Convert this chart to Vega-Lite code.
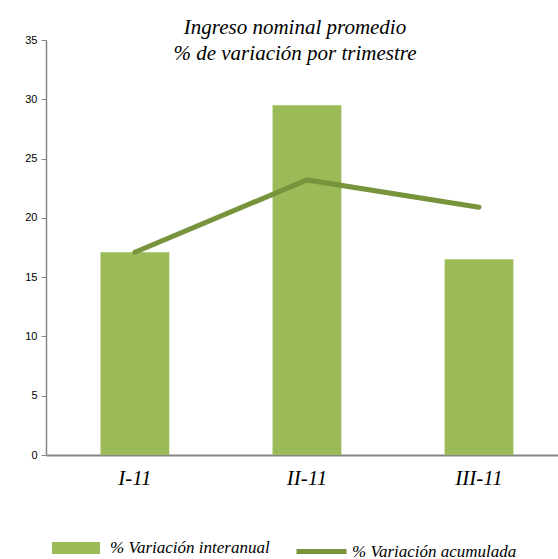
{
  "$schema": "https://vega.github.io/schema/vega-lite/v6.json",
  "autosize": {"type": "none"},
  "padding": {"left": 46, "top": 40, "right": 0, "bottom": 104},
  "width": 512,
  "height": 415,
  "background": "white",
  "title": {
    "text": ["Ingreso nominal promedio", "% de variación por trimestre"],
    "anchor": "middle",
    "font": "Liberation Serif",
    "fontStyle": "italic",
    "fontWeight": "normal",
    "fontSize": 21,
    "lineHeight": 26,
    "color": "#000000",
    "dx": -7,
    "offset": -30
  },
  "data": {
    "values": [
      {"trimestre": "I-11", "interanual": 17.1, "acumulada": 17.1},
      {"trimestre": "II-11", "interanual": 29.5, "acumulada": 23.2},
      {"trimestre": "III-11", "interanual": 16.5, "acumulada": 20.9}
    ]
  },
  "encoding": {
    "x": {
      "field": "trimestre",
      "type": "nominal",
      "sort": null,
      "scale": {"paddingInner": 0.6, "paddingOuter": 0.288, "align": 0.55},
      "axis": {
        "title": null,
        "labelAngle": 0,
        "labelFont": "Liberation Serif",
        "labelFontStyle": "italic",
        "labelFontSize": 21,
        "labelColor": "#000000",
        "labelPadding": 12,
        "ticks": false,
        "domainColor": "#868686",
        "domainWidth": 2
      }
    }
  },
  "layer": [
    {
      "mark": {"type": "bar", "color": "#9BBB59"},
      "encoding": {
        "y": {
          "field": "interanual",
          "type": "quantitative",
          "scale": {"domain": [0, 35], "nice": false},
          "axis": {
            "title": null,
            "values": [0, 5, 10, 15, 20, 25, 30, 35],
            "grid": false,
            "labelFont": "Liberation Sans",
            "labelFontSize": 11,
            "labelColor": "#000000",
            "labelPadding": 4,
            "tickSize": 5,
            "tickColor": "#868686",
            "domainColor": "#868686",
            "domainWidth": 1.5
          }
        },
        "fill": {
          "datum": "% Variación interanual",
          "scale": {"range": ["#9BBB59"]},
          "legend": {
            "title": null,
            "orient": "none",
            "legendX": 6,
            "legendY": 484,
            "symbolType": "M-1,-0.25H1V0.25H-1Z",
            "symbolSize": 2304,
            "symbolStrokeWidth": 0,
            "labelFont": "Liberation Serif",
            "labelFontStyle": "italic",
            "labelFontSize": 17,
            "labelColor": "#000000",
            "labelLimit": 0,
            "labelOffset": 10
          }
        }
      }
    },
    {
      "mark": {"type": "line", "strokeWidth": 5, "strokeCap": "round"},
      "encoding": {
        "y": {"field": "acumulada", "type": "quantitative"},
        "stroke": {
          "datum": "% Variación acumulada",
          "scale": {"range": ["#77933C"]},
          "legend": {
            "title": null,
            "orient": "none",
            "legendX": 248,
            "legendY": 484,
            "symbolType": "stroke",
            "symbolSize": 2500,
            "symbolStrokeWidth": 5,
            "labelFont": "Liberation Serif",
            "labelFontStyle": "italic",
            "labelFontSize": 17,
            "labelColor": "#000000",
            "labelLimit": 0,
            "labelOffset": 3
          }
        }
      }
    }
  ],
  "config": {
    "font": "Liberation Serif",
    "view": {"stroke": null}
  }
}
